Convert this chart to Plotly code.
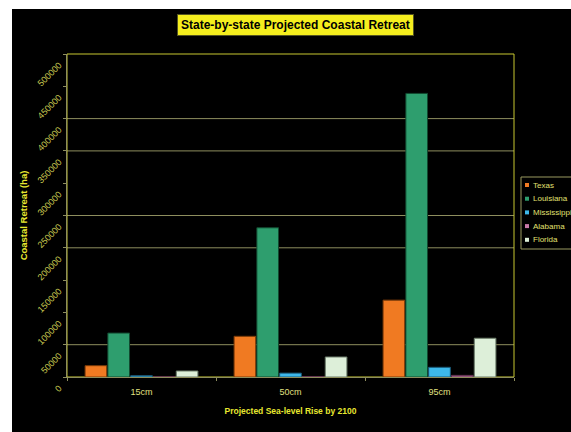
import plotly.graph_objects as go

categories = ["15cm", "50cm", "95cm"]
states = ["Texas", "Louisiana", "Mississippi", "Alabama", "Florida"]
texas = [17500, 63000, 119000]
louisiana = [68000, 231000, 439000]
mississippi = [2000, 6000, 15000]
alabama = [300, 500, 2500]
florida = [9300, 31000, 60000]
series = [texas, louisiana, mississippi, alabama, florida]
colors = ["#F07A22", "#2E9E6E", "#3DB8EA", "#C878A8", "#DDEFD9"]
edge_colors = ["#7A3A08", "#124A30", "#1A5A78", "#603050", "#6A7A68"]
grid_values = [50000, 200000, 250000, 350000, 400000]
y_ticks = list(range(0, 500001, 50000))

fig = go.Figure()
for name, vals, c, ec in zip(states, series, colors, edge_colors):
    fig.add_trace(go.Bar(
        x=categories, y=vals, name=name, showlegend=False,
        marker=dict(color=c, line=dict(color=ec, width=1)),
    ))

W, H = 571, 432
L, R, T, B = 67, 57, 54, 55
pw = W - L - R
ph = H - T - B

def px_x(p):
    return (p - L) / pw

def px_y(p):
    return (H - B - p) / ph

shapes = []
# white outer frame (left & top strips)
shapes.append(dict(type="rect", xref="paper", yref="paper", layer="below",
                   x0=px_x(-2), x1=px_x(12), y0=px_y(434), y1=px_y(-2),
                   fillcolor="white", line=dict(width=0)))
shapes.append(dict(type="rect", xref="paper", yref="paper", layer="below",
                   x0=px_x(-2), x1=px_x(573), y0=px_y(9), y1=px_y(-2),
                   fillcolor="white", line=dict(width=0)))
for g in grid_values:
    shapes.append(dict(type="line", xref="paper", yref="y", layer="below",
                       x0=0, x1=1, y0=g, y1=g,
                       line=dict(color="#8E8E5E", width=1)))
# plot border (top/right yellow)
shapes.append(dict(type="rect", xref="paper", yref="paper", layer="below",
                   x0=0, x1=1, y0=0, y1=1,
                   line=dict(color="#C8C830", width=1)))

# manual compact legend
leg_top, leg_bottom, leg_left = 177, 249, 521
shapes.append(dict(type="rect", xref="paper", yref="paper",
                   x0=px_x(leg_left), x1=px_x(575), y0=px_y(leg_bottom), y1=px_y(leg_top),
                   fillcolor="black", line=dict(color="#9A9A60", width=1)))
annotations = [
    dict(text="<b>State-by-state Projected Coastal Retreat</b>",
         xref="paper", yref="paper", x=px_x(295), y=px_y(25),
         xanchor="center", yanchor="middle", showarrow=False,
         font=dict(size=12, color="black", family="Liberation Sans, Arial, sans-serif"),
         bgcolor="#F5EE1E", bordercolor="#555520", borderwidth=1, borderpad=3),
]
for i, (name, c) in enumerate(zip(states, colors)):
    yc = 185 + i * 13.7
    shapes.append(dict(type="rect", xref="paper", yref="paper",
                       x0=px_x(525), x1=px_x(529), y0=px_y(yc + 2), y1=px_y(yc - 2),
                       fillcolor=c, line=dict(width=0)))
    annotations.append(dict(text=name, xref="paper", yref="paper",
                            x=px_x(531), y=px_y(yc), xanchor="left", yanchor="middle",
                            showarrow=False,
                            font=dict(size=8, color="#E0E070")))

fig.update_layout(
    width=W, height=H,
    margin=dict(l=L, r=R, t=T, b=B, autoexpand=False),
    paper_bgcolor="black", plot_bgcolor="black",
    font=dict(family="Liberation Sans, Arial, sans-serif", color="#D8D860", size=9),
    barmode="group", bargap=0.235, bargroupgap=0.05,
    showlegend=False,
    shapes=shapes,
    annotations=annotations,
    xaxis=dict(
        type="category", showgrid=False, showline=True, linecolor="#8E8E5E",
        ticks="outside", ticklen=3, tickcolor="#8E8E5E", tickson="boundaries",
        ticklabelstandoff=6,
        tickfont=dict(size=9, color="#E0E080"),
        title=dict(text="<b>Projected Sea-level Rise by 2100</b>",
                   font=dict(size=8.5, color="#E8E830"), standoff=12),
    ),
    yaxis=dict(
        range=[0, 500000], tickvals=y_ticks, ticktext=[str(v) for v in y_ticks],
        showgrid=False, zeroline=False, showline=True, linecolor="#8E8E5E",
        ticks="outside", ticklen=3, tickcolor="#8E8E5E",
        tickangle=-45, ticklabelshift=10, ticklabelstandoff=2,
        tickfont=dict(size=9, color="#C8C850"),
        title=dict(text="<b>Coastal Retreat (ha)</b>",
                   font=dict(size=9.5, color="#E8E830"), standoff=6),
    ),
)

fig.write_html("out.html")
